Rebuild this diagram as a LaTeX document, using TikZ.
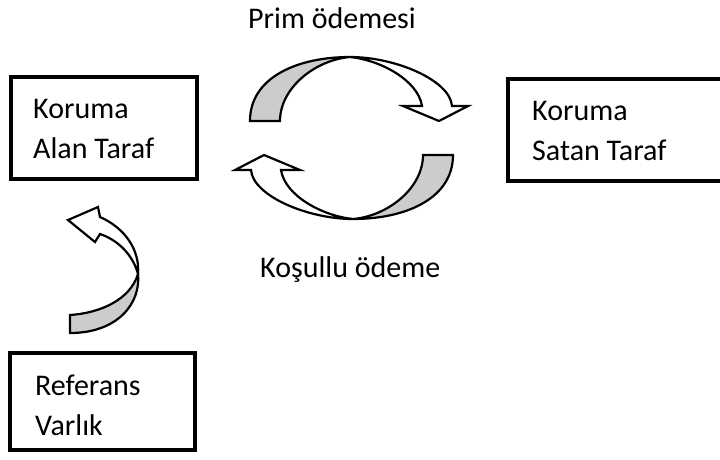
\documentclass[tikz,border=0pt]{standalone}
\usepackage{fontspec}
\setmainfont{Carlito}
\begin{document}
\begin{tikzpicture}[x=1pt,y=-1pt,
  boxframe/.style={draw=black,line width=4pt,fill=white},
  lbl/.style={anchor=base west,inner sep=0pt,font=\fontsize{30}{40}\selectfont},
  backside/.style={draw=black,line width=2.2pt,fill=black!20,line join=miter},
  frontside/.style={draw=black,line width=2.2pt,fill=white,line join=miter}]
\useasboundingbox (0,0) rectangle (720,459);
% boxes
\draw[boxframe] (11,77) rectangle (197,179);
\draw[boxframe] (508,79) rectangle (726,181);
\draw[boxframe] (10,353) rectangle (195,450);
% box texts
\node[lbl] (t1a) at (33,118) {Koruma};
\node[lbl] (t1b) at (33,158) {Alan Taraf};
\node[lbl] (t2a) at (532,120) {Koruma};
\node[lbl] (t2b) at (532,160) {Satan Taraf};
\node[lbl] (t3a) at (35,395) {Referans};
\node[lbl] (t3b) at (35,435) {Varlık};
% labels
\node[lbl] (prim) at (248,28) {Prim ödemesi};
\node[lbl] (kosul) at (260,277) {Koşullu ödeme};
% top curved arrow
\def\toparrow{%
  \draw[backside] (250,121) .. controls (250,77) and (298,57) .. (350,57)
     .. controls (315,60) and (280,88) .. (280,121) -- cycle;
  \draw[frontside] (350,57) .. controls (395,57) and (450,80) .. (452,106)
     -- (468,106) -- (439,121) -- (403,106) -- (422,106)
     .. controls (418,80) and (380,60) .. (350,57) -- cycle;}
\toparrow
\begin{scope}[rotate around={180:(351.5,138)}]
\toparrow
\end{scope}
% small arrow
\draw[backside] (70,315) .. controls (100,313) and (130,300) .. (138,274)
   .. controls (141,303) and (118,333) .. (70,333) -- cycle;
\draw[frontside] (138,274) .. controls (133,255) and (118,240) .. (100,234)
   -- (95,242) -- (68,220) -- (98,207) -- (100,217)
   .. controls (125,228) and (140,250) .. (138,274) -- cycle;
\end{tikzpicture}
\end{document}
